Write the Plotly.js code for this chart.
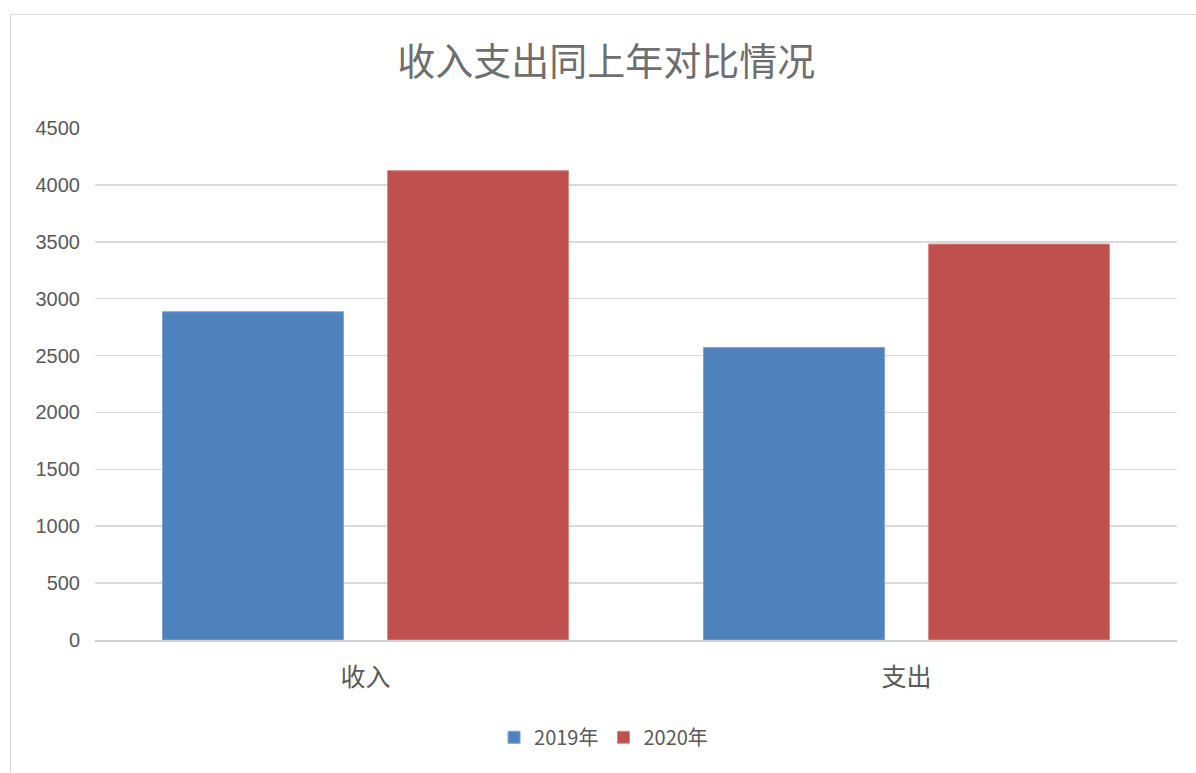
<!DOCTYPE html>
<html>
<head>
<meta charset="utf-8">
<script src="https://cdn.plot.ly/plotly-3.0.1.min.js"></script>
<style>
html,body{margin:0;padding:0;background:#fff;overflow:hidden;}
#frame{position:absolute;left:10px;top:14px;width:1200px;height:800px;border:1.5px solid #d9d9d9;box-sizing:border-box;}
#chart{position:absolute;left:0;top:0;width:1196px;height:773px;}
</style>
</head>
<body>
<div id="frame"></div>
<div id="chart"></div>
<script>
const categories = ["收入", "支出"];
const seriesNames = ["2019年", "2020年"];
const values2019 = [2885, 2570];
const values2020 = [4125, 3480];
const yTicks = [0, 500, 1000, 1500, 2000, 2500, 3000, 3500, 4000, 4500];
const titleText = "收入支出同上年对比情况";

const fontFam = "Liberation Sans, Noto Sans CJK SC, sans-serif";
const cjkFam = "Noto Sans CJK SC, Liberation Sans, sans-serif";

const traces = [
  {type: "bar", name: seriesNames[0], x: categories, y: values2019,
   marker: {color: "#4f81bd", line: {color: "#7aa3d6", width: 1}}, hoverinfo: "y"},
  {type: "bar", name: seriesNames[1], x: categories, y: values2020,
   marker: {color: "#c0504d", line: {color: "#d88a88", width: 1}}, hoverinfo: "y"}
];

const layout = {
  width: 1196, height: 773,
  paper_bgcolor: "rgba(0,0,0,0)",
  plot_bgcolor: "rgba(0,0,0,0)",
  margin: {l: 95, r: 19, t: 128, b: 133},
  title: {text: titleText, x: 0.507, xanchor: "center", y: 0.92, yanchor: "middle",
          font: {family: cjkFam, size: 38, color: "#6e6e6e"}},
  barmode: "group",
  bargap: 0.168,
  bargroupgap: 0.196,
  showlegend: true,
  legend: {orientation: "h", x: 0.47, xanchor: "center", y: -0.19, yanchor: "middle",
           font: {family: cjkFam, size: 20, color: "#595959"}, itemwidth: 30},
  xaxis: {type: "category", showgrid: false, showline: true, linecolor: "#d0d0d0", linewidth: 2,
          ticks: "", tickfont: {family: cjkFam, size: 25, color: "#595959"}, ticklabelstandoff: 14},
  yaxis: {range: [0, 4500], tickvals: yTicks, showgrid: true, gridcolor: "#d9d9d9", gridwidth: 1.5,
          zeroline: false, showline: false, ticks: "",
          tickfont: {family: fontFam, size: 20, color: "#595959"}, ticklabelstandoff: 14}
};

Plotly.newPlot("chart", traces, layout, {displayModeBar: false, staticPlot: true});
</script>
</body>
</html>
